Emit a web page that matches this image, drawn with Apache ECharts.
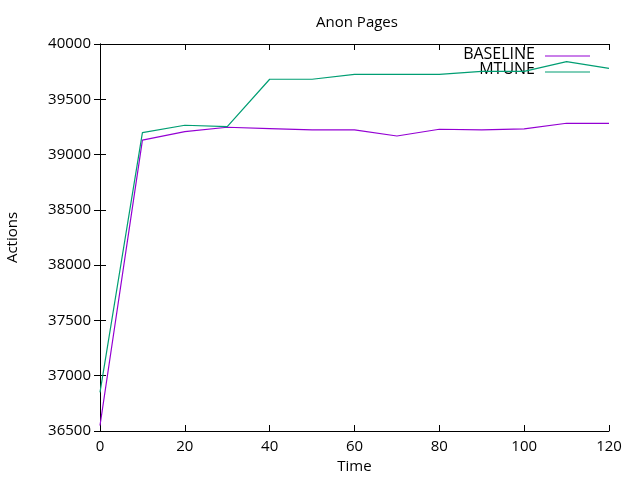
<!DOCTYPE html>
<html><head><meta charset="utf-8">
<script src="https://cdn.jsdelivr.net/npm/echarts@6/dist/echarts.min.js"></script>
<style>html,body{margin:0;padding:0;background:#fff}#c{width:640px;height:480px}</style>
</head><body><div id="c"></div>
<script>
const times = [0,10,20,30,40,50,60,70,80,90,100,110,120];
const baseline = [36550,39130,39207,39247,39235,39223,39223,39168,39229,39223,39232,39283,39283];
const mtune = [36850,39198,39265,39253,39681,39681,39726,39726,39726,39753,39753,39840,39780];
const xTicks = [0,20,40,60,80,100,120];
const yTicks = [36500,37000,37500,38000,38500,39000,39500,40000];

const font = 'Open Sans';
const chart = echarts.init(document.getElementById('c'), null, {renderer:'canvas'});
const axisCommon = {
  axisLine:{show:true,lineStyle:{color:'#000',width:1}},
  axisTick:{show:true,inside:true,length:6,lineStyle:{color:'#000'}},
  splitLine:{show:false}
};
chart.setOption({
  animation:false,
  title:{text:'Anon Pages',left:352,top:10,textAlign:'center',textStyle:{fontFamily:font,fontSize:15,fontWeight:'normal',color:'#000'}},
  grid:{left:100,right:31,top:44,bottom:49,containLabel:false,outerBoundsMode:'none'},
  legend:{show:false},
  xAxis:[
    Object.assign({type:'value',min:0,max:120,interval:20,position:'bottom',
      name:'Time',nameLocation:'middle',nameGap:28,
      nameTextStyle:{fontFamily:font,fontSize:15,color:'#000'},
      axisLabel:{fontFamily:font,fontSize:15,color:'#000',margin:8,formatter:v=>String(v)}},axisCommon),
    Object.assign({type:'value',min:0,max:120,interval:20,position:'top',axisLabel:{show:false}},axisCommon)
  ],
  yAxis:[
    Object.assign({type:'value',min:36500,max:40000,interval:500,position:'left',
      name:'Actions',nameLocation:'middle',nameGap:80,
      nameTextStyle:{fontFamily:font,fontSize:15,color:'#000'},
      axisLabel:{fontFamily:font,fontSize:15,color:'#000',margin:9,formatter:v=>String(v)}},axisCommon),
    Object.assign({type:'value',min:36500,max:40000,interval:500,position:'right',axisLabel:{show:false}},axisCommon)
  ],
  series:[
    {name:'BASELINE',type:'line',data:times.map((t,i)=>[t,baseline[i]]),showSymbol:false,
     lineStyle:{color:'#9400d3',width:1.2},itemStyle:{color:'#9400d3'}},
    {name:'MTUNE',type:'line',data:times.map((t,i)=>[t,mtune[i]]),showSymbol:false,
     lineStyle:{color:'#009e73',width:1.2},itemStyle:{color:'#009e73'}}
  ],
  graphic:[
    {type:'text',x:535,y:46,style:{text:'BASELINE',fontFamily:font,fontSize:16,fill:'#000',align:'right',textAlign:'right'}},
    {type:'line',shape:{x1:545,y1:56,x2:590,y2:56},style:{stroke:'#9400d3',lineWidth:1.2}},
    {type:'text',x:535,y:61,style:{text:'MTUNE',fontFamily:font,fontSize:16,fill:'#000',align:'right',textAlign:'right'}},
    {type:'line',shape:{x1:545,y1:72,x2:590,y2:72},style:{stroke:'#009e73',lineWidth:1.2}}
  ]
});
</script></body></html>
